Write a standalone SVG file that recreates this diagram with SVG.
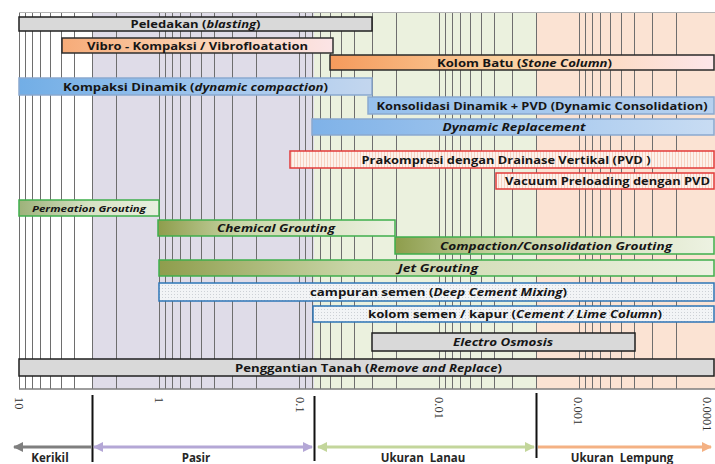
<svg xmlns="http://www.w3.org/2000/svg" width="715" height="464" viewBox="0 0 715 464">
<style>
.bar{stroke-width:1.5}
.gray{fill:#d9d9d9;stroke:#1f1f1f}
.lbl{font-family:"Open Sans","Liberation Sans",sans-serif;font-weight:700;font-size:11px;fill:#161616;text-anchor:middle}
.it{font-style:italic}
.ax{font-family:"Liberation Serif",serif;font-size:12.5px;fill:#2e2e2e}
.cls{font-family:"Open Sans","Liberation Sans",sans-serif;font-weight:700;font-size:11.5px;fill:#262626;text-anchor:middle}
.grid{stroke:#6e6e6e;stroke-width:1;fill:none}
.red{stroke:#e23a3a;fill:url(#stripe)}
.grn{stroke:#3fae4c}
.blu{stroke:#8aa9cf}
.dcm{stroke:#2e75b6;fill:url(#dots)}
</style>
<defs>
<linearGradient id="gOr1" x1="0" x2="1" y1="0" y2="0"><stop offset="0" stop-color="#f6ab78"/><stop offset="0.5" stop-color="#fbd2b2"/><stop offset="1" stop-color="#fbe4e6"/></linearGradient>
<linearGradient id="gOr2" x1="0" x2="1" y1="0" y2="0"><stop offset="0" stop-color="#f59a5c"/><stop offset="0.45" stop-color="#fbd19f"/><stop offset="1" stop-color="#fde6ea"/></linearGradient>
<linearGradient id="gBl1" x1="0" x2="1" y1="0" y2="0"><stop offset="0" stop-color="#72aee6"/><stop offset="0.6" stop-color="#a5c8ee"/><stop offset="1" stop-color="#c3d6ee"/></linearGradient>
<linearGradient id="gBl2" x1="0" x2="1" y1="0" y2="0"><stop offset="0" stop-color="#96c0ec"/><stop offset="1" stop-color="#b7d1ef"/></linearGradient>
<linearGradient id="gBl3" x1="0" x2="1" y1="0" y2="0"><stop offset="0" stop-color="#7fb2e8"/><stop offset="1" stop-color="#c8dcf3"/></linearGradient>
<linearGradient id="gGr" x1="0" x2="1" y1="0" y2="0"><stop offset="0" stop-color="#8e9d4c"/><stop offset="0.35" stop-color="#c9d6a8"/><stop offset="1" stop-color="#edf2e2"/></linearGradient>
<linearGradient id="gGrL" x1="0" x2="1" y1="0" y2="0"><stop offset="0" stop-color="#9db27a"/><stop offset="0.5" stop-color="#d6e2c4"/><stop offset="1" stop-color="#e8efe0"/></linearGradient>
<pattern id="stripe" width="3" height="4" patternUnits="userSpaceOnUse"><rect width="3" height="4" fill="#fdf2ec"/><rect width="1" height="4" fill="#f7d2c2"/></pattern>
<pattern id="dots" width="3" height="3" patternUnits="userSpaceOnUse"><rect width="3" height="3" fill="#f2f4f6"/><rect width="1" height="1" fill="#cdd1d6"/></pattern>
<marker id="aGray" viewBox="0 0 10 10" refX="9" refY="5" markerWidth="12" markerHeight="10" markerUnits="userSpaceOnUse" orient="auto-start-reverse"><path d="M0,0 L10,5 L0,10 z" fill="#7f7f7f"/></marker>
<marker id="aLav" viewBox="0 0 10 10" refX="9" refY="5" markerWidth="12" markerHeight="10" markerUnits="userSpaceOnUse" orient="auto-start-reverse"><path d="M0,0 L10,5 L0,10 z" fill="#b4a7d6"/></marker>
<marker id="aGrn" viewBox="0 0 10 10" refX="9" refY="5" markerWidth="12" markerHeight="10" markerUnits="userSpaceOnUse" orient="auto-start-reverse"><path d="M0,0 L10,5 L0,10 z" fill="#c3d69b"/></marker>
<marker id="aOr" viewBox="0 0 10 10" refX="9" refY="5" markerWidth="12" markerHeight="10" markerUnits="userSpaceOnUse" orient="auto-start-reverse"><path d="M0,0 L10,5 L0,10 z" fill="#f4b183"/></marker>
</defs>
<rect width="715" height="464" fill="#ffffff"/>
<g id="background">
<rect x="92.5" y="12" width="221.5" height="377" fill="#dfdce8"/>
<rect x="314" y="12" width="222.5" height="377" fill="#ebf1de"/>
<rect x="536.5" y="12" width="178.5" height="377" fill="#fbe3d3"/>
<path class="grid" d="M19.5,12V389M25.5,12V389M32.5,12V389M40.5,12V389M50.5,12V389M61.5,12V389M74.5,12V389M92.5,12V389M116.5,12V389M159.5,12V389M165.5,12V389M172.5,12V389M180.5,12V389M190.5,12V389M201.5,12V389M214.5,12V389M232.5,12V389M256.5,12V389M299.5,12V389M305.5,12V389M312.5,12V389M320.5,12V389M330.5,12V389M341.5,12V389M354.5,12V389M372.5,12V389M396.5,12V389M439.5,12V389M445.5,12V389M452.5,12V389M460.5,12V389M470.5,12V389M481.5,12V389M494.5,12V389M512.5,12V389M536.5,12V389M579.5,12V389M585.5,12V389M592.5,12V389M600.5,12V389M610.5,12V389M621.5,12V389M634.5,12V389M652.5,12V389M676.5,12V389"/>
<path d="M19,12.5H715" stroke="#b5b5b5" stroke-width="1"/>
<path d="M19,389H715" stroke="#7e7e7e" stroke-width="1.5"/>
</g>
<g id="n-peledakan"><rect class="bar gray" x="19" y="17" width="353" height="14"/><text class="lbl" x="195.5" y="28" textLength="130" lengthAdjust="spacingAndGlyphs">Peledakan (<tspan class="it">blasting</tspan>)</text></g>
<g id="n-vibro"><rect class="bar" x="62" y="38" width="271" height="15" fill="url(#gOr1)" stroke="#2f2f2f"/><text class="lbl" x="197.5" y="49.5" textLength="221" lengthAdjust="spacingAndGlyphs">Vibro - Kompaksi / Vibrofloatation</text></g>
<g id="n-kolombatu"><rect class="bar" x="330" y="55" width="384" height="15" fill="url(#gOr2)" stroke="#2a2a2a"/><text class="lbl" x="524.5" y="66.5" textLength="175" lengthAdjust="spacingAndGlyphs">Kolom Batu (<tspan class="it">Stone Column</tspan>)</text></g>
<g id="n-kompaksidinamik"><rect class="bar blu" x="19" y="78" width="353" height="17" fill="url(#gBl1)"/><text class="lbl" x="195.5" y="90.5" textLength="265" lengthAdjust="spacingAndGlyphs">Kompaksi Dinamik (<tspan class="it">dynamic compaction</tspan>)</text></g>
<g id="n-konsolidasi"><rect class="bar blu" x="368" y="97" width="346" height="17" fill="url(#gBl2)"/><text class="lbl" x="542" y="110" textLength="331" lengthAdjust="spacingAndGlyphs">Konsolidasi Dinamik + PVD (Dynamic Consolidation)</text></g>
<g id="n-dynreplacement"><rect class="bar blu" x="312" y="119" width="402" height="16" fill="url(#gBl3)"/><text class="lbl it" x="514" y="131" textLength="143" lengthAdjust="spacingAndGlyphs">Dynamic Replacement</text></g>
<g id="n-prakompresi"><rect class="bar red" x="290" y="151" width="424" height="17"/><text class="lbl" x="506" y="163.5" textLength="289" lengthAdjust="spacingAndGlyphs">Prakompresi dengan Drainase Vertikal (PVD )</text></g>
<g id="n-vacuum"><rect class="bar red" x="496" y="173" width="218" height="16"/><text class="lbl" x="607.5" y="185" textLength="205" lengthAdjust="spacingAndGlyphs">Vacuum  Preloading dengan PVD</text></g>
<g id="n-permeation"><rect class="bar grn" x="19" y="200" width="140" height="16" fill="url(#gGrL)"/><text class="lbl it" x="89" y="211.5" style="font-size:9px" textLength="114" lengthAdjust="spacingAndGlyphs">Permeation Grouting</text></g>
<g id="n-chemical"><rect class="bar grn" x="158" y="220" width="237" height="16" fill="url(#gGr)"/><text class="lbl it" x="276" y="232" textLength="118" lengthAdjust="spacingAndGlyphs">Chemical Grouting</text></g>
<g id="n-compaction"><rect class="bar grn" x="395" y="237" width="319" height="17" fill="url(#gGr)"/><text class="lbl it" x="556" y="250" textLength="232" lengthAdjust="spacingAndGlyphs">Compaction/Consolidation Grouting</text></g>
<g id="n-jet"><rect class="bar grn" x="159" y="260" width="555" height="16" fill="url(#gGr)"/><text class="lbl it" x="438" y="272" textLength="80" lengthAdjust="spacingAndGlyphs">Jet Grouting</text></g>
<g id="n-dcm"><rect class="bar dcm" x="159" y="283" width="555" height="18"/><text class="lbl" x="438.5" y="296" textLength="257" lengthAdjust="spacingAndGlyphs">campuran semen (<tspan class="it">Deep Cement Mixing</tspan>)</text></g>
<g id="n-kolomsemen"><rect class="bar dcm" x="313" y="306" width="401" height="16"/><text class="lbl" x="515" y="318" textLength="294" lengthAdjust="spacingAndGlyphs">kolom semen / kapur (<tspan class="it">Cement / Lime Column</tspan>)</text></g>
<g id="n-electro"><rect class="bar gray" x="372" y="333" width="263" height="18"/><text class="lbl it" x="503" y="346" textLength="100" lengthAdjust="spacingAndGlyphs">Electro Osmosis</text></g>
<g id="n-penggantian"><rect class="bar gray" x="19" y="359" width="695" height="17"/><text class="lbl" x="368.5" y="371.5" textLength="267" lengthAdjust="spacingAndGlyphs">Penggantian Tanah (<tspan class="it">Remove and Replace</tspan>)</text></g>
<g id="axis-labels">
<text class="ax" x="14.5" y="397" transform="rotate(90 14.5 397)">10</text>
<text class="ax" x="154.5" y="397" transform="rotate(90 154.5 397)">1</text>
<text class="ax" x="295.5" y="397" transform="rotate(90 295.5 397)">0.1</text>
<text class="ax" x="434.5" y="397" transform="rotate(90 434.5 397)">0.01</text>
<text class="ax" x="573.5" y="397" transform="rotate(90 573.5 397)">0.001</text>
<text class="ax" x="703" y="397" transform="rotate(90 703 397)">0.0001</text>
</g>
<g id="connectors">
<path d="M92.5,395V462M314.5,396V461M536.5,393V458" stroke="#111111" stroke-width="2"/>
<path d="M91,447H14" stroke="#7f7f7f" stroke-width="3" marker-end="url(#aGray)"/>
<path d="M94,447H312" stroke="#b4a7d6" stroke-width="3" marker-start="url(#aLav)" marker-end="url(#aLav)"/>
<path d="M318,447H534" stroke="#c3d69b" stroke-width="3" marker-start="url(#aGrn)" marker-end="url(#aGrn)"/>
<path d="M538,447H711" stroke="#f4b183" stroke-width="3" marker-end="url(#aOr)"/>
</g>
<g id="class-labels">
<text class="cls" x="50" y="462">Kerikil</text>
<text class="cls" x="196" y="462">Pasir</text>
<text class="cls" x="423" y="462" style="word-spacing:3px">Ukuran Lanau</text>
<text class="cls" x="622" y="462" style="word-spacing:3px">Ukuran Lempung</text>
</g>
</svg>
